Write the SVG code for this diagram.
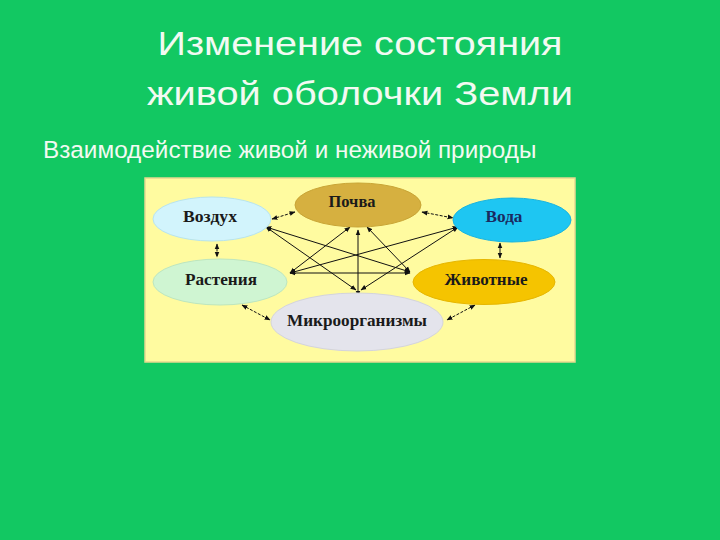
<svg xmlns="http://www.w3.org/2000/svg" width="720" height="540" viewBox="0 0 720 540">
<style>
.title{font-family:"Liberation Sans",Arial,sans-serif;fill:#F2FAF2;text-anchor:middle}
.lbl{font-family:"Liberation Serif","Times New Roman",serif;font-weight:bold;font-size:16.5px;text-anchor:middle;fill:#1a1a1a}
.c{stroke:#111;stroke-width:1;fill:none;marker-start:url(#ah);marker-end:url(#ah)}
.d{stroke-dasharray:3 1.5}
</style>
<defs>
<marker id="ah" viewBox="0 0 10 10" refX="9" refY="5" markerWidth="6" markerHeight="6" orient="auto-start-reverse" markerUnits="userSpaceOnUse">
<path d="M0,1 L10,5 L0,9 Z" fill="#111"/>
</marker>
</defs>
<rect width="720" height="540" fill="#12C862"/>
<text class="title" x="360" y="55" font-size="34" textLength="405" lengthAdjust="spacingAndGlyphs">Изменение состояния</text>
<text class="title" x="360" y="105" font-size="34" textLength="426" lengthAdjust="spacingAndGlyphs">живой оболочки Земли</text>
<text class="title" x="43" y="158" font-size="24.3" style="text-anchor:start">Взаимодействие живой и неживой природы</text>
<rect x="145" y="178" width="430" height="184" fill="#FFFBA0" stroke="#E8D890" stroke-width="1.5"/>
<g id="connectors">
<line class="c d" x1="272" y1="219" x2="295" y2="212"/>
<line class="c d" x1="422" y1="212" x2="453" y2="218"/>
<line class="c d" x1="217" y1="244" x2="217" y2="257"/>
<line class="c" x1="500" y1="243" x2="500" y2="258"/>
<line class="c d" x1="242" y1="305" x2="270" y2="320"/>
<line class="c d" x1="475" y1="305" x2="447" y2="320"/>
<line class="c" x1="290" y1="273" x2="410" y2="273"/>
<line class="c" x1="358" y1="230" x2="358" y2="296"/>
<line class="c" x1="266" y1="227" x2="410" y2="272"/>
<line class="c" x1="266" y1="227" x2="356" y2="290"/>
<line class="c" x1="290" y1="273" x2="350" y2="227"/>
<line class="c" x1="290" y1="273" x2="458" y2="227"/>
<line class="c" x1="458" y1="227" x2="361" y2="290"/>
<line class="c" x1="410" y1="272" x2="367" y2="227"/>
</g>
<g id="pochva"><ellipse cx="358" cy="205" rx="63" ry="22" fill="#D6B040" stroke="#C9A535"/><text class="lbl" x="352" y="207" textLength="47" lengthAdjust="spacingAndGlyphs">Почва</text></g>
<g id="vozduh"><ellipse cx="212" cy="219" rx="59" ry="22" fill="#D2F4FC" stroke="#B8E4EE"/><text class="lbl" x="210" y="222" textLength="54" lengthAdjust="spacingAndGlyphs">Воздух</text></g>
<g id="voda"><ellipse cx="512" cy="220" rx="59" ry="22" fill="#1EC6F2" stroke="#18B4E0"/><text class="lbl" x="504" y="222" textLength="37" lengthAdjust="spacingAndGlyphs" style="fill:#1A2A60">Вода</text></g>
<g id="rasteniya"><ellipse cx="220" cy="282" rx="67" ry="23" fill="#CFF5D2" stroke="#BDE6BF"/><text class="lbl" x="221" y="285" textLength="72" lengthAdjust="spacingAndGlyphs">Растения</text></g>
<g id="zhivotnye"><ellipse cx="484" cy="282" rx="71" ry="22.5" fill="#F5C400" stroke="#E6B600"/><text class="lbl" x="486" y="285" textLength="83" lengthAdjust="spacingAndGlyphs">Животные</text></g>
<g id="mikro"><ellipse cx="357" cy="322" rx="86" ry="29" fill="#E4E4EC" stroke="#D4D4DC"/><text class="lbl" x="357" y="326" textLength="140" lengthAdjust="spacingAndGlyphs">Микроорганизмы</text></g>
</svg>
